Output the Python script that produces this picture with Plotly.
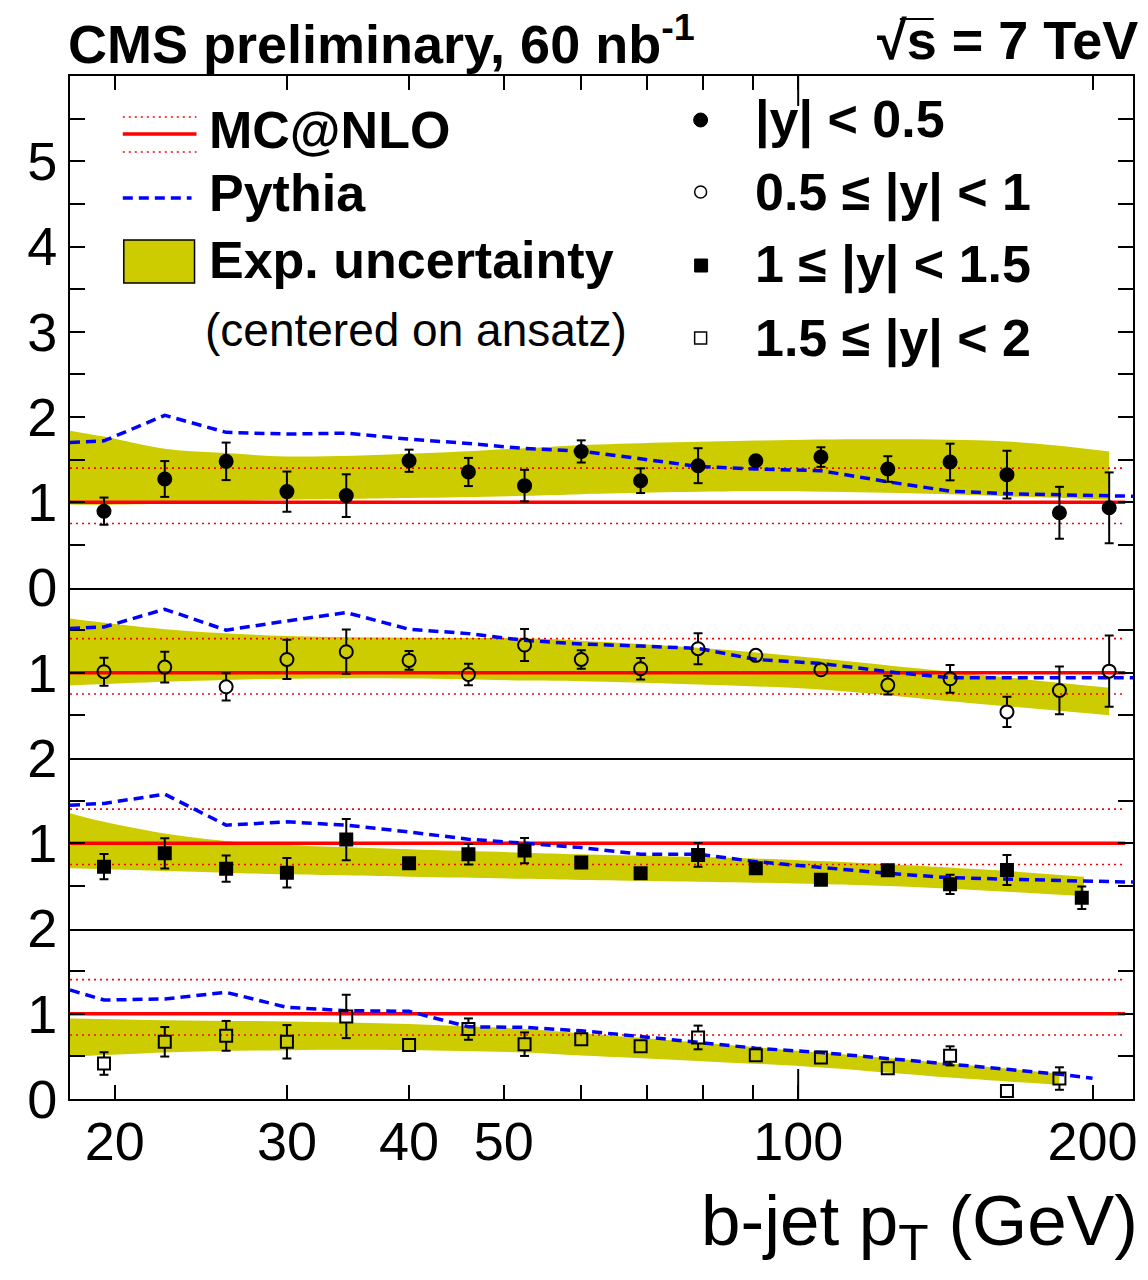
import math
import plotly.graph_objects as go
from plotly.subplots import make_subplots

# ---------------- data ----------------
PT = [19.5, 22.5, 26, 30, 34.5, 40, 46, 52.5, 60, 69, 79, 90.5, 105.5, 123.5, 143, 163.5, 185, 208]

# |y| < 0.5
x1 = PT
y1 = [0.895, 1.273, 1.48, 1.125, 1.078, 1.487, 1.355, 1.195, 1.596, 1.253, 1.429, 1.487, 1.53, 1.39, 1.472, 1.324, 0.876, 0.935]
e1 = [0.16, 0.21, 0.22, 0.235, 0.25, 0.13, 0.165, 0.185, 0.13, 0.145, 0.205, 0.05, 0.115, 0.15, 0.215, 0.28, 0.305, 0.415]
# 0.5 <= |y| < 1
x2 = PT
y2 = [1.012, 1.066, 0.835, 1.156, 1.247, 1.145, 0.98, 1.325, 1.156, 1.047, 1.282, 1.204, 1.035, 0.855, 0.929, 0.541, 0.792, 1.019]
e2 = [0.165, 0.18, 0.16, 0.23, 0.26, 0.11, 0.127, 0.187, 0.108, 0.125, 0.182, 0.05, 0.05, 0.11, 0.163, 0.177, 0.28, 0.418]
# 1 <= |y| < 1.5
x3 = PT[:16] + [195]
y3 = [0.725, 0.882, 0.702, 0.655, 1.043, 0.765, 0.871, 0.914, 0.773, 0.647, 0.863, 0.706, 0.573, 0.682, 0.518, 0.686, 0.361]
e3 = [0.148, 0.177, 0.155, 0.173, 0.241, 0.05, 0.12, 0.149, 0.05, 0.05, 0.139, 0.05, 0.05, 0.05, 0.112, 0.177, 0.132]
# 1.5 <= |y| < 2
x4 = PT[:17]
y4 = [0.416, 0.671, 0.741, 0.671, 0.969, 0.632, 0.82, 0.643, 0.702, 0.62, 0.722, 0.514, 0.486, 0.361, 0.506, 0.094, 0.24]
e4 = [0.132, 0.173, 0.175, 0.196, 0.255, 0.05, 0.125, 0.138, 0.05, 0.05, 0.139, 0.05, 0.05, 0.05, 0.112, 0.05, 0.132]

# Pythia / MC@NLO ratio
pyx1 = [18] + PT + [220]
pyv1 = [1.70, 1.72, 2.02, 1.82, 1.80, 1.81, 1.74, 1.69, 1.63, 1.60, 1.51, 1.42, 1.39, 1.37, 1.24, 1.13, 1.10, 1.09, 1.08, 1.07]
pyx2 = [18] + PT + [220]
pyv2 = [1.518, 1.537, 1.745, 1.50, 1.607, 1.706, 1.51, 1.459, 1.38, 1.337, 1.313, 1.286, 1.156, 1.109, 1.012, 0.941, 0.941, 0.941, 0.941, 0.94]
pyx3 = [18] + PT[:16] + [195, 220]
pyv3 = [1.447, 1.467, 1.576, 1.212, 1.251, 1.212, 1.133, 1.047, 1.0, 0.949, 0.871, 0.871, 0.784, 0.714, 0.647, 0.596, 0.576, 0.557, 0.545]
pyx4 = [18] + PT[:17] + [200]
pyv4 = [1.279, 1.161, 1.173, 1.251, 1.075, 1.036, 1.028, 0.847, 0.84, 0.8, 0.733, 0.663, 0.596, 0.545, 0.475, 0.416, 0.349, 0.29, 0.243]

# experimental uncertainty band (centered on ansatz)
bx1 = [18, 19.5, 22.5, 26, 30, 40, 52.5, 60, 90.5, 123.5, 163.5, 208]
bhi1 = [1.84, 1.77, 1.627, 1.577, 1.537, 1.569, 1.634, 1.67, 1.724, 1.74, 1.713, 1.596]
blo1 = [0.973, 0.97, 0.985, 1.012, 1.03, 1.05, 1.075, 1.095, 1.128, 1.11, 1.07, 1.03]
bx2 = [18, 22.5, 30, 40, 52.5, 60, 79, 105.5, 143, 208]
bhi2 = [1.635, 1.51, 1.431, 1.412, 1.404, 1.376, 1.294, 1.168, 1.012, 0.824]
blo2 = [0.851, 0.894, 0.929, 0.933, 0.909, 0.9, 0.862, 0.804, 0.666, 0.501]
bx3 = [18, 19.5, 22.5, 26, 30, 40, 52.5, 60, 90.5, 123.5, 163.5, 196]
bhi3 = [1.353, 1.251, 1.114, 1.027, 0.98, 0.929, 0.89, 0.87, 0.82, 0.753, 0.674, 0.608]
blo3 = [0.706, 0.694, 0.675, 0.655, 0.635, 0.608, 0.584, 0.57, 0.537, 0.498, 0.432, 0.38]
bx4 = [18, 22.5, 30, 40, 52.5, 60, 79, 105.5, 143, 185]
bhi4 = [0.945, 0.925, 0.91, 0.879, 0.82, 0.77, 0.663, 0.545, 0.416, 0.298]
blo4 = [0.494, 0.545, 0.573, 0.573, 0.545, 0.51, 0.447, 0.369, 0.251, 0.165]

# MC@NLO (reference = 1) and its scale band
mcx = [18, 216]
mc_c = [1.0, 1.0]
mc_hi = [1.4, 1.4]
mc_lo = [0.75, 0.75]

XTICKS = [20, 30, 40, 50, 100, 200]
XTICKTEXT = ["20", "30", "40", "50", "100", "200"]
XMINOR = [60, 70, 80, 90]

LABELS = ["|y| < 0.5", "0.5 ≤ |y| < 1", "1 ≤ |y| < 1.5", "1.5 ≤ |y| < 2"]

# y-axis labels per panel (labelled values) and panel heights (units)
YLAB = [[0, 1, 2, 3, 4, 5], [1], [1, 2], [0, 1, 2]]
UNITS = [6, 2, 2, 2]

# ---------------- layout constants ----------------
W, H = 1148, 1280
ML, MR, MT, MB = 70, 11, 76, 181
PW, PH = W - ML - MR, H - MT - MB
XMIN, XMAX = 18, 220
PX_UNIT = PH / sum(UNITS)
PX_DEC = PW / (math.log10(XMAX) - math.log10(XMIN))
FONT = "Liberation Sans, Arial, Helvetica, sans-serif"
OLIVE = "#cccc00"
CAP = 10 ** (4.5 / PX_DEC)


def px(x):
    return (x - ML) / PW


def py(y):
    return (H - MB - y) / PH


fig = make_subplots(rows=4, cols=1, shared_xaxes=True, vertical_spacing=0,
                    row_heights=UNITS)

panels = [
    (x1, y1, e1, pyx1, pyv1, bx1, bhi1, blo1, "circle", 13),
    (x2, y2, e2, pyx2, pyv2, bx2, bhi2, blo2, "circle-open", 13),
    (x3, y3, e3, pyx3, pyv3, bx3, bhi3, blo3, "square", 12),
    (x4, y4, e4, pyx4, pyv4, bx4, bhi4, blo4, "square-open", 12),
]

for i, (xs, ys, es, pxs, pvs, bxs, bhi, blo, sym, msize) in enumerate(panels):
    row = i + 1
    # band
    fig.add_trace(go.Scatter(x=bxs, y=blo, mode="lines", line=dict(width=0, shape="spline"),
                             hoverinfo="skip", showlegend=False), row=row, col=1)
    fig.add_trace(go.Scatter(x=bxs, y=bhi, mode="lines", line=dict(width=0, shape="spline"),
                             fill="tonexty", fillcolor=OLIVE, hoverinfo="skip",
                             showlegend=False), row=row, col=1)
    # MC@NLO
    for yy, dash, wdt in [(mc_hi, "2px,4px", 1.6), (mc_lo, "2px,4px", 1.6), (mc_c, "solid", 3.5)]:
        fig.add_trace(go.Scatter(x=mcx, y=yy, mode="lines",
                                 line=dict(color="#ff0000", width=wdt, dash=dash),
                                 showlegend=False), row=row, col=1)
    # Pythia
    fig.add_trace(go.Scatter(x=pxs, y=pvs, mode="lines",
                             line=dict(color="#0000ff", width=3.5, dash="10px,6px"),
                             showlegend=False), row=row, col=1)
    # error bars (stopping at the marker edge) with caps
    r = (msize / 2) / PX_UNIT
    ex, ey, cx, cy = [], [], [], []
    for x, y, e in zip(xs, ys, es):
        if e > r:
            ex += [x, x, None, x, x, None]
            ey += [y + r, y + e, None, y - r, y - e, None]
            cx += [x / CAP, x * CAP, None, x / CAP, x * CAP, None]
            cy += [y + e, y + e, None, y - e, y - e, None]
    fig.add_trace(go.Scatter(x=ex, y=ey, mode="lines", line=dict(color="black", width=2),
                             showlegend=False, hoverinfo="skip"), row=row, col=1)
    fig.add_trace(go.Scatter(x=cx, y=cy, mode="lines", line=dict(color="black", width=2),
                             showlegend=False, hoverinfo="skip"), row=row, col=1)
    # markers
    fig.add_trace(go.Scatter(x=xs, y=ys, mode="markers", name=LABELS[i],
                             marker=dict(symbol=sym, size=msize, color="black",
                                         line=dict(color="black", width=2)),
                             showlegend=False), row=row, col=1)

# ---------------- axes ----------------
for i, (labs, top) in enumerate(zip(YLAB, UNITS)):
    halves = [v * 0.5 for v in range(2 * top + 1)]
    minor_vals = [v for v in halves if v not in labs]
    fig.update_yaxes(row=i + 1, col=1, range=[0, top], tickvals=labs,
                     ticktext=[str(v) for v in labs],
                     ticks="inside", ticklen=15, tickwidth=2, tickcolor="black",
                     minor=dict(tickvals=minor_vals, ticks="inside", ticklen=15,
                                tickwidth=2, tickcolor="black"),
                     showline=True, linecolor="black", linewidth=2, mirror="ticks",
                     showgrid=False, zeroline=False,
                     tickfont=dict(family=FONT, size=54, color="black"))

for i in range(4):
    common = dict(type="log", range=[math.log10(XMIN), math.log10(XMAX)],
                  showline=True, linecolor="black", linewidth=2,
                  showgrid=False, zeroline=False)
    if i == 0:
        fig.update_xaxes(row=1, col=1, side="top", mirror=True, ticks="inside", ticklen=14, tickwidth=2,
                         tickcolor="black", tickvals=XTICKS, showticklabels=False,
                         minor=dict(tickvals=XMINOR, ticks="inside", ticklen=14,
                                    tickwidth=2, tickcolor="black"), **common)
    elif i == 3:
        fig.update_xaxes(row=4, col=1, side="bottom", mirror=False, ticks="inside", ticklen=14,
                         tickwidth=2, tickcolor="black", tickvals=XTICKS, ticktext=XTICKTEXT,
                         showticklabels=True, ticklabelstandoff=-6,
                         tickfont=dict(family=FONT, size=54, color="black"),
                         minor=dict(tickvals=XMINOR, ticks="inside", ticklen=14,
                                    tickwidth=2, tickcolor="black"), **common)
    else:
        fig.update_xaxes(row=i + 1, col=1, side="bottom", mirror=False, ticks="",
                         showticklabels=False, **common)

# longer decade tick at 100
fig.add_shape(type="line", xref="x4", yref="y4 domain", x0=100, x1=100, y0=0, y1=30 / (2 * PX_UNIT),
              line=dict(color="black", width=2))
fig.add_shape(type="line", xref="x", yref="y domain", x0=100, x1=100, y0=1, y1=1 - 30 / (6 * PX_UNIT),
              line=dict(color="black", width=2))

# ---------------- text ----------------
ann = []


def note(text, x, y, xanchor, size, yanchor="middle"):
    ann.append(dict(text=text, x=px(x), y=py(y), xref="paper", yref="paper",
                    xanchor=xanchor, yanchor=yanchor, showarrow=False,
                    font=dict(family=FONT, size=size, color="black")))


note("<b>CMS preliminary, 60 nb<sup>-1</sup></b>", 66, 40, "left", 54)
note("<b>√s = 7 TeV</b>", 1144, 40, "right", 54)
note("b-jet p<sub>T</sub> (GeV)", 1144, 1226, "right", 71)

# left legend
for t, yc in [("<b>MC@NLO</b>", 130), ("<b>Pythia</b>", 193), ("<b>Exp. uncertainty</b>", 260)]:
    note(t, 208, yc, "left", 52)
note("(centered on ansatz)", 203, 330, "left", 46)

shapes = []
# vinculum of the square root over "s"
shapes.append(dict(type="line", xref="paper", yref="paper", x0=px(903), x1=px(937), y0=py(19), y1=py(19),
                   line=dict(color="black", width=2)))
shapes.append(dict(type="line", xref="paper", yref="paper", x0=px(123), x1=px(197), y0=py(117), y1=py(117),
                   line=dict(color="#ff0000", width=1.6, dash="2px,4px")))
shapes.append(dict(type="line", xref="paper", yref="paper", x0=px(123), x1=px(197), y0=py(152), y1=py(152),
                   line=dict(color="#ff0000", width=1.6, dash="2px,4px")))
shapes.append(dict(type="line", xref="paper", yref="paper", x0=px(123), x1=px(197), y0=py(134), y1=py(134),
                   line=dict(color="#ff0000", width=3.5)))
shapes.append(dict(type="line", xref="paper", yref="paper", x0=px(123), x1=px(192), y0=py(198), y1=py(198),
                   line=dict(color="#0000ff", width=3.5, dash="10px,6px")))
shapes.append(dict(type="rect", xref="paper", yref="paper", x0=px(124), x1=px(195), y0=py(283), y1=py(240),
                   fillcolor=OLIVE, line=dict(color="black", width=1.5)))

# right legend
for lab, yc in zip(LABELS, [120, 192, 265, 338]):
    note("<b>" + lab + "</b>", 756, yc, "left", 52)
shapes.append(dict(type="circle", xref="paper", yref="paper", x0=px(696), x1=px(710), y0=py(127), y1=py(113),
                   fillcolor="black", line=dict(color="black", width=1)))
shapes.append(dict(type="circle", xref="paper", yref="paper", x0=px(697), x1=px(709), y0=py(198), y1=py(186),
                   fillcolor="rgba(0,0,0,0)", line=dict(color="black", width=1.5)))
shapes.append(dict(type="rect", xref="paper", yref="paper", x0=px(697), x1=px(710), y0=py(272), y1=py(259),
                   fillcolor="black", line=dict(color="black", width=1)))
shapes.append(dict(type="rect", xref="paper", yref="paper", x0=px(697), x1=px(709), y0=py(344), y1=py(332),
                   fillcolor="rgba(0,0,0,0)", line=dict(color="black", width=1.5)))

fig.update_layout(width=W, height=H, margin=dict(l=ML, r=MR, t=MT, b=MB),
                  paper_bgcolor="white", plot_bgcolor="white", showlegend=False,
                  annotations=ann, shapes=list(fig.layout.shapes) + shapes,
                  font=dict(family=FONT, color="black"))

fig.write_html("out.html")
